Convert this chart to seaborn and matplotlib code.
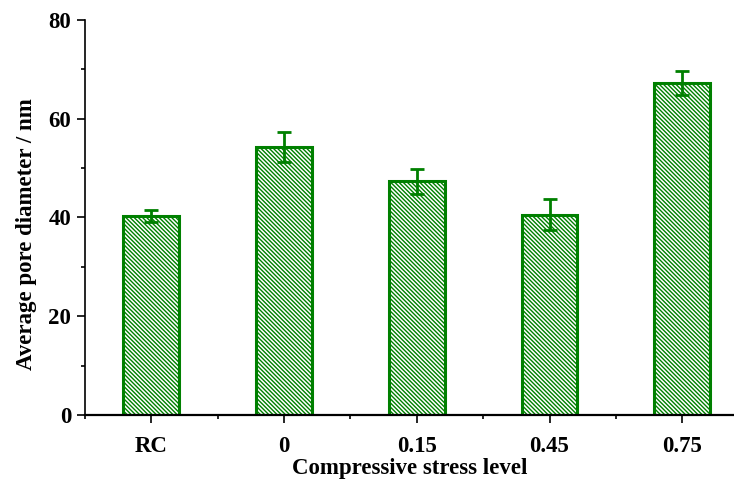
import matplotlib
matplotlib.use("Agg")
import matplotlib.pyplot as plt
from matplotlib.ticker import MultipleLocator
import seaborn as sns
import pandas as pd

# Average pore diameter for each compressive stress level
levels = ["RC", "0", "0.15", "0.45", "0.75"]
diameter = [40.3, 54.3, 47.3, 40.6, 67.3]
diameter_err = [1.2, 3.1, 2.5, 3.2, 2.4]

sns.set_theme(style="ticks")
plt.rcParams["font.family"] = ["Liberation Serif", "DejaVu Serif"]
plt.rcParams["font.weight"] = "bold"
plt.rcParams["hatch.linewidth"] = 1.0
plt.rcParams["text.color"] = "black"
plt.rcParams["axes.labelcolor"] = "black"
plt.rcParams["xtick.color"] = "black"
plt.rcParams["ytick.color"] = "black"

green = "#008000"

df = pd.DataFrame({"level": levels, "diameter": diameter})

fig = plt.figure(figsize=(7.34, 4.86), dpi=100)
ax = fig.add_axes([0.1158, 0.146, 0.8842, 0.813])

sns.barplot(data=df, x="level", y="diameter", order=levels, width=0.42,
            color="white", edgecolor=green, linewidth=2.2,
            hatch="\\\\\\\\\\\\\\\\", errorbar=None, ax=ax)

centers = [p.get_x() + p.get_width() / 2 for p in ax.patches]
ax.errorbar(centers, diameter, yerr=diameter_err, fmt="none", ecolor=green,
            elinewidth=2, capsize=5, capthick=2, zorder=5)

ax.set_xlim(-0.5, 4.39)
ax.set_ylim(0, 80)
ax.yaxis.set_major_locator(MultipleLocator(20))
ax.yaxis.set_minor_locator(MultipleLocator(10))
ax.xaxis.set_minor_locator(MultipleLocator(1, offset=0.5))

ax.tick_params(axis="both", which="major", direction="out", length=6,
               width=1.2, color="black", labelcolor="black", labelsize=16.5)
ax.tick_params(axis="x", which="major", pad=9)
ax.tick_params(axis="y", which="major", pad=4)
ax.tick_params(axis="both", which="minor", direction="out", length=3,
               width=1.2, color="black")
for lab in ax.get_xticklabels() + ax.get_yticklabels():
    lab.set_fontweight("bold")

ax.spines["top"].set_visible(False)
ax.spines["right"].set_visible(False)
ax.spines["left"].set_linewidth(1.2)
ax.spines["bottom"].set_linewidth(1.6)
ax.spines["left"].set_color("black")
ax.spines["bottom"].set_color("black")

ax.set_xlabel("Compressive stress level", fontsize=16.5, fontweight="bold",
              labelpad=1, color="black")
ax.set_ylabel("Average pore diameter / nm", fontsize=16.5, fontweight="bold",
              color="black")
ax.yaxis.set_label_coords(-0.074, 0.458)

fig.savefig("out.png", dpi=100)
